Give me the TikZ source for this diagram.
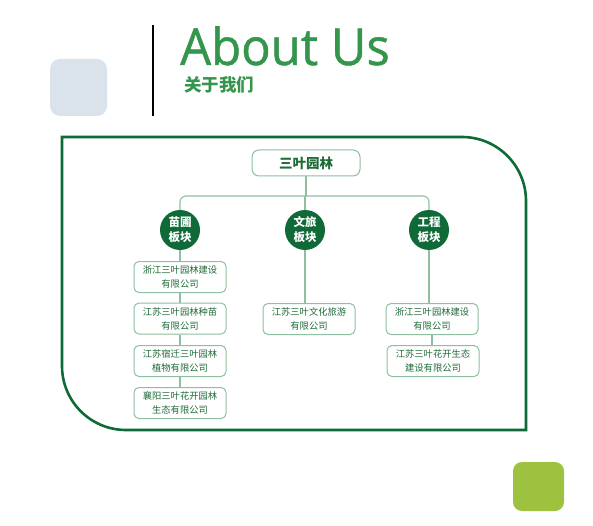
\documentclass[tikz,border=0pt]{standalone}
\usepackage{fontspec}
\setmainfont{Open Sans}
\newfontfamily\titlefont{Open Sans}[FakeBold=0.9]
\newfontfamily\cjk{Noto Sans CJK SC}
\definecolor{frameg}{HTML}{0E6A36}
\definecolor{circg}{HTML}{0F6A38}
\definecolor{lineg}{HTML}{8DBFA0}
\definecolor{txtg}{HTML}{1E6B37}
\definecolor{titleg}{HTML}{34954C}
\definecolor{greyb}{HTML}{DAE3EB}
\definecolor{limeg}{HTML}{9DC23F}
\tikzset{
  conn/.style={draw=lineg, line width=1.1pt},
  boxn/.style={draw=lineg, line width=1pt, rounded corners=5pt, fill=white, minimum width=92pt, minimum height=31pt, inner sep=0pt, align=center, text=txtg, font=\cjk\fontsize{9.3}{14}\selectfont},
  circn/.style={circle, fill=circg, minimum size=40pt, inner sep=0pt, align=center, text=white, font=\cjk\bfseries\fontsize{11.5}{15}\selectfont},
  topn/.style={draw=lineg, line width=1pt, rounded corners=7pt, fill=white, minimum width=108pt, minimum height=26pt, inner sep=0pt, text=txtg, font=\cjk\bfseries\fontsize{13.5}{16}\selectfont}
}
\begin{document}
\begin{tikzpicture}[x=1pt,y=-1pt]
\useasboundingbox (0,0) rectangle (593,526);
% decorations
\fill[greyb, rounded corners=10pt] (50,59) rectangle (107,116);
\fill[limeg, rounded corners=9pt] (513,462) rectangle (564,511);
\draw[black, line width=1.3pt] (153,25) -- (153,116);
\node[anchor=base west, inner sep=0pt, text=titleg, font=\titlefont\fontsize{51}{51}\selectfont, xscale=0.96] (title) at (180,65) {About Us};
\node[anchor=base west, inner sep=0pt, text=titleg, font=\cjk\bfseries\fontsize{17.5}{18}\selectfont] (subtitle) at (184,91.5) {关于我们};
% frame
\draw[frameg, line width=2.6pt] (62,137) -- (462,137) arc[start angle=90, end angle=0, radius=64pt] -- (526,430) -- (126,430) arc[start angle=270, end angle=180, radius=64pt] -- cycle;
% nodes
\node[topn] (top) at (306,163) {三叶园林};
\node[circn] (c1) at (180,230) {苗圃\\板块};
\node[circn] (c2) at (305,230) {文旅\\板块};
\node[circn] (c3) at (429,230) {工程\\板块};
\node[boxn] (b1) at (180,277) {浙江三叶园林建设\\有限公司};
\node[boxn] (b2) at (180,318.5) {江苏三叶园林种苗\\有限公司};
\node[boxn] (b3) at (180,361) {江苏宿迁三叶园林\\植物有限公司};
\node[boxn] (b4) at (180,403) {襄阳三叶花开园林\\生态有限公司};
\node[boxn] (m1) at (309,319) {江苏三叶文化旅游\\有限公司};
\node[boxn] (r1) at (432,319) {浙江三叶园林建设\\有限公司};
\node[boxn] (r2) at (433,361) {江苏三叶花开生态\\建设有限公司};
% connectors
\coordinate (bar) at (306,196);
\draw[conn] (top.south) -- (bar);
\draw[conn, rounded corners=6pt] (c1.north) |- (bar) -| (c3.north);
\draw[conn] (c2.north) -- (c2.north |- bar);
\draw[conn] (c1.south) -- (c1.south |- b1.north);
\draw[conn] (b1.south) -- (b2.north);
\draw[conn] (b2.south) -- (b3.north);
\draw[conn] (b3.south) -- (b4.north);
\draw[conn] (c2.south) -- (c2.south |- m1.north);
\draw[conn] (c3.south) -- (c3.south |- r1.north);
\draw[conn] (r1.south) -- (r1.south |- r2.north);
\end{tikzpicture}
\end{document}
